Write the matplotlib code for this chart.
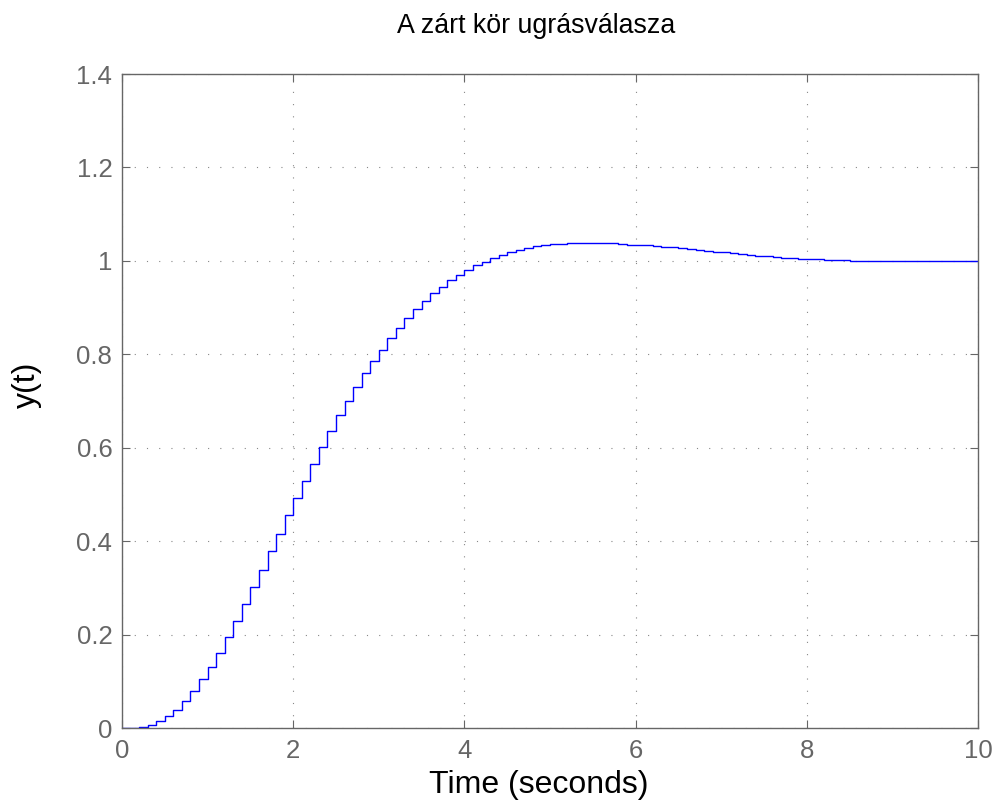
import matplotlib
matplotlib.use("Agg")
import matplotlib.pyplot as plt
import numpy as np

plt.rcParams["font.family"] = ["Liberation Sans", "DejaVu Sans"]

# sample time and held output values
Ts = 0.1
y_vals = [
    0.000, 0.000, 0.002, 0.007, 0.014, 0.026, 0.039, 0.057, 0.079, 0.104,
    0.131, 0.160, 0.195, 0.229, 0.265, 0.302, 0.339, 0.378, 0.415, 0.455,
    0.493, 0.529, 0.565, 0.601, 0.635, 0.669, 0.700, 0.731, 0.759, 0.785,
    0.809, 0.834, 0.856, 0.878, 0.897, 0.915, 0.931, 0.945, 0.958, 0.970,
    0.981, 0.991, 0.998, 1.006, 1.013, 1.018, 1.024, 1.028, 1.031, 1.034,
    1.036, 1.037, 1.038, 1.038, 1.039, 1.039, 1.038, 1.038, 1.037, 1.035,
    1.034, 1.033, 1.032, 1.030, 1.029, 1.027, 1.025, 1.023, 1.022, 1.020,
    1.018, 1.016, 1.015, 1.013, 1.011, 1.010, 1.008, 1.007, 1.006, 1.005,
    1.004, 1.003, 1.002, 1.002, 1.001, 1.000, 1.000, 0.999, 0.999, 0.999,
    0.999, 0.999, 0.999, 0.999, 0.999, 0.999, 0.999, 1.000, 1.000, 1.000,
    1.000,
]
t = np.arange(len(y_vals)) * Ts

xticks = [0, 2, 4, 6, 8, 10]
yticks = [0, 0.2, 0.4, 0.6, 0.8, 1, 1.2, 1.4]
ytick_labels = ["0", "0.2", "0.4", "0.6", "0.8", "1", "1.2", "1.4"]

fig = plt.figure(figsize=(9.96, 8.07), dpi=100)
ax = fig.add_axes([122 / 996, 1 - 728 / 807, 856 / 996, 654 / 807])

ax.step(t, y_vals, where="post", color="#0000ff", lw=1.0)

ax.set_xlim(0, 10)
ax.set_ylim(0, 1.4)
ax.set_xticks(xticks)
ax.set_yticks(yticks)
ax.set_yticklabels(ytick_labels)

gcol = "#666666"
for s in ax.spines.values():
    s.set_color(gcol)
    s.set_linewidth(1.0)
ax.tick_params(direction="in", length=6, width=0.8, color=gcol, labelcolor=gcol,
               labelsize=18.5, top=True, right=True)
ax.tick_params(axis="x", pad=8)
ax.tick_params(axis="y", pad=7)

ax.grid(True, color="#888888", lw=0.8, linestyle=(0, (1, 10)))

ax.set_xlabel("Time (seconds)", fontsize=23, color="black")
ax.xaxis.set_label_coords(0.487, -0.064)
ax.set_ylabel("y(t)", fontsize=23, color="black")
ax.yaxis.set_label_coords(-0.094, 0.524)

fig.text(0.538, 1 - 26 / 807, "A zárt kör ugrásválasza", ha="center", va="center",
         fontsize=19.3, color="black")

fig.savefig("out.png", dpi=100)
